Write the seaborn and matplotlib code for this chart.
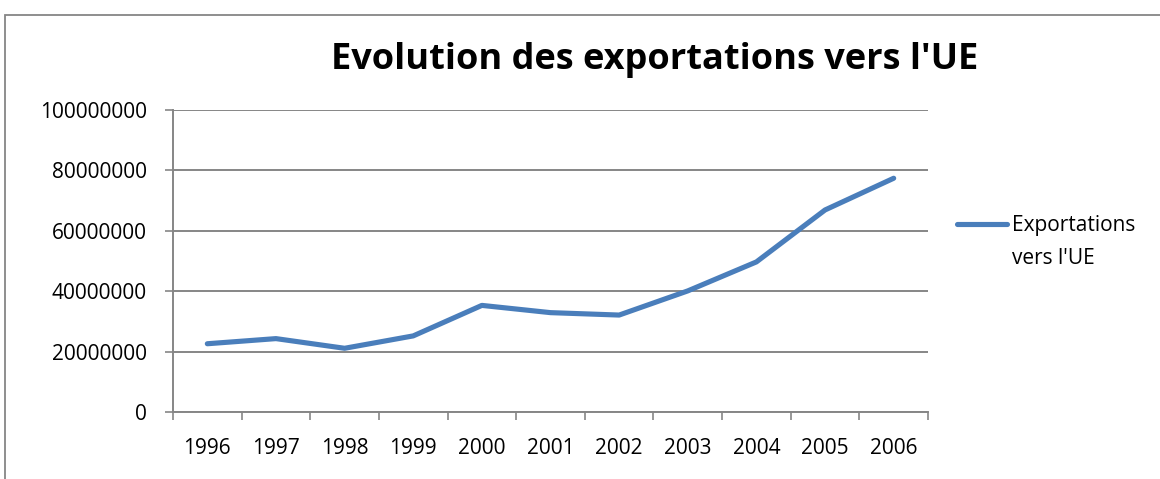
import pandas as pd
import matplotlib.pyplot as plt
import seaborn as sns
from matplotlib.patches import Rectangle
from matplotlib.ticker import FixedLocator

# ------------------------
# Data
# ------------------------
years = ["1996", "1997", "1998", "1999", "2000", "2001", "2002", "2003", "2004", "2005", "2006"]
exports = [22.6e6, 24.3e6, 21.1e6, 25.2e6, 35.3e6, 32.9e6, 32.1e6, 40.1e6, 49.7e6, 66.9e6, 77.4e6]
y_ticks = [0, 20000000, 40000000, 60000000, 80000000, 100000000]
series_name = ["Exportations", "vers l'UE"]

df = pd.DataFrame({"pos": range(len(years)), "value": exports})

# ------------------------
# Plot
# ------------------------
sns.set_style("white")
plt.rcParams["font.family"] = ["Open Sans", "DejaVu Sans"]
plt.rcParams["text.color"] = "black"
plt.rcParams["xtick.color"] = "black"
plt.rcParams["ytick.color"] = "black"

fig = plt.figure(figsize=(11.6, 4.79), dpi=100)
ax = fig.add_axes([173 / 1160, 1 - 412 / 479, (928 - 173) / 1160, (412 - 110) / 479])

grid_col = "#868686"
line_col = "#4a7ebb"

sns.lineplot(data=df, x="pos", y="value", ax=ax, color=line_col, linewidth=3.7,
             label=series_name[0], solid_capstyle="round")

ax.set_xlim(-0.5, len(years) - 0.5)
ax.set_ylim(0, 100000000)
ax.set_yticks(y_ticks)
ax.set_yticklabels([str(v) for v in y_ticks], fontsize=15)
ax.set_xticks(range(len(years)))
ax.set_xticklabels(years, fontsize=15)
ax.xaxis.set_minor_locator(FixedLocator([i - 0.5 for i in range(len(years) + 1)]))
ax.tick_params(axis="x", which="major", length=0, pad=19)
ax.tick_params(axis="x", which="minor", length=6, width=1.2, color=grid_col, bottom=True)
ax.tick_params(axis="y", which="major", length=6, width=1.2, color=grid_col, left=True, pad=13)
ax.set_xlabel("")
ax.set_ylabel("")

for y in y_ticks:
    ax.axhline(y, color=grid_col, linewidth=1.4, zorder=0)

for side in ["top", "right"]:
    ax.spines[side].set_visible(False)
for side in ["left", "bottom"]:
    ax.spines[side].set_color(grid_col)
    ax.spines[side].set_linewidth(1.4)

fig.text(655 / 1160, 1 - 60 / 479, "Evolution des exportations vers l'UE",
         ha="center", va="center", fontsize=26, fontweight="bold", color="black")

# legend: handle sits next to the first line of the label, like Excel
leg = ax.legend(loc="center left", bbox_to_anchor=(949 / 1160, 1 - 226 / 479),
                bbox_transform=fig.transFigure, frameon=False, fontsize=15,
                handlelength=2.4, handletextpad=0.2, borderaxespad=0)
fig.canvas.draw()
txt_x = leg.get_texts()[0].get_window_extent().x0 / fig.bbox.width
fig.text(txt_x, 1 - 258 / 479, series_name[1], ha="left", va="center", fontsize=15)

# outer chart border (top and left visible)
fig.patches.append(Rectangle((5 / 1160, -0.1), 1.2, 1 - 15 / 479 + 0.1, transform=fig.transFigure,
                             fill=False, edgecolor=grid_col, linewidth=1.3))

fig.savefig("out.png", dpi=100)
